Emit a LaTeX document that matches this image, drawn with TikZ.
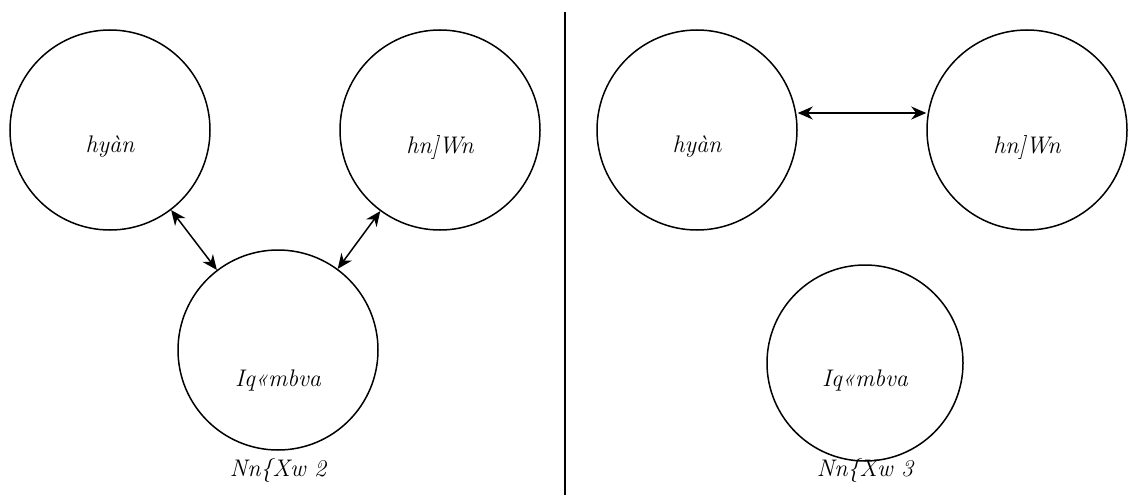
\documentclass[tikz,border=0pt]{standalone}
\usetikzlibrary{arrows.meta}
\begin{document}
\begin{tikzpicture}[x=1pt,y=-1pt,
  ball/.style={draw,line width=1.5pt,circle,minimum size=200pt,inner sep=0pt},
  lbl/.style={font=\fontsize{24}{28}\selectfont\itshape,inner sep=0pt},
  link/.style={line width=1.5pt,{Stealth[length=15pt,width=13pt]}-{Stealth[length=15pt,width=13pt]}}]
\useasboundingbox (0,0) rectangle (1129,495);
% left panel
\node[ball] (a1) at (110,130) {};
\node[ball] (b1) at (440,130) {};
\node[ball] (c1) at (278,350) {};
\node[lbl] at (110,147) {hyàn};
\node[lbl] at (440,147) {hn]Wn};
\node[lbl] at (278,380) {Iq«mbva};
\node[lbl] (t1) at (278,470) {Nn\{Xw 2};
\draw[link] (a1) -- (c1);
\draw[link] (b1) -- (c1);
% divider
\coordinate (d1) at (565,12);
\coordinate (d2) at (565,495);
\draw[line width=1.5pt] (d1) -- (d2);
% right panel
\node[ball] (a2) at (697,130) {};
\node[ball] (b2) at (1027,130) {};
\node[ball,minimum size=196pt] (c2) at (865,363) {};
\node[lbl] at (697,147) {hyàn};
\node[lbl] at (1027,147) {hn]Wn};
\node[lbl] at (865,380) {Iq«mbva};
\node[lbl] (t2) at (865,470) {Nn\{Xw 3};
\draw[link] (a2.east |- 0,113) -- (b2.west |- 0,113);
\end{tikzpicture}
\end{document}
